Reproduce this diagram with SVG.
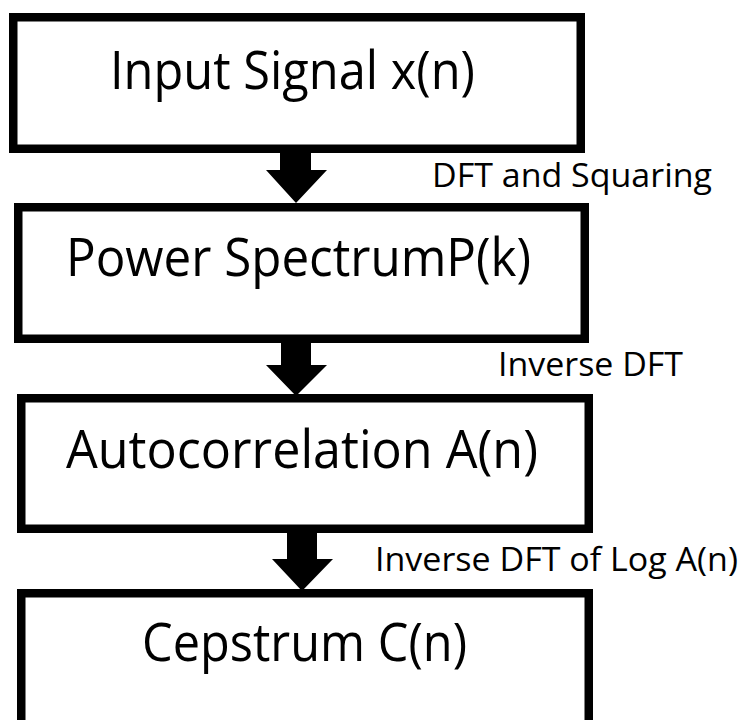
<svg xmlns="http://www.w3.org/2000/svg" width="744" height="720" viewBox="0 0 744 720">
<style>
.box{fill:#fff;stroke:#000;stroke-width:8.5}
.main{font-family:"Open Sans","Noto Sans",sans-serif;font-size:53px;fill:#000}
.lbl{font-family:"Open Sans","Noto Sans",sans-serif;font-size:32px;fill:#000}
.arr{fill:#000}
</style>
<rect width="744" height="720" fill="#fff"/>
<g id="node-input">
<rect class="box" x="13.25" y="17.25" width="567.5" height="131.5"/>
<text class="main" x="110" y="89" textLength="365" lengthAdjust="spacingAndGlyphs">Input Signal x(n)</text>
</g>
<g id="node-power">
<rect class="box" x="18.25" y="207.25" width="566.5" height="131.5"/>
<text class="main" x="66" y="276" textLength="465" lengthAdjust="spacingAndGlyphs">Power SpectrumP(k)</text>
</g>
<g id="node-autocorr">
<rect class="box" x="21.25" y="398.25" width="567.5" height="130.5"/>
<text class="main" x="66" y="468" textLength="472" lengthAdjust="spacingAndGlyphs">Autocorrelation A(n)</text>
</g>
<g id="node-cepstrum">
<rect class="box" x="21.25" y="593.25" width="567.5" height="200"/>
<text class="main" x="142" y="661" textLength="325" lengthAdjust="spacingAndGlyphs">Cepstrum C(n)</text>
</g>
<g id="connectors">
<polygon class="arr" points="280,150 311,150 311,170 327,170 296,203 266,170 280,170"/>
<polygon class="arr" points="281,340 311,340 311,365 327,365 296,396 266,365 281,365"/>
<polygon class="arr" points="287,530 317,530 317,559 333,559 302,591 272,559 287,559"/>
<text class="lbl" x="432" y="187" textLength="280" lengthAdjust="spacingAndGlyphs">DFT and Squaring</text>
<text class="lbl" x="498" y="376" textLength="185" lengthAdjust="spacingAndGlyphs">Inverse DFT</text>
<text class="lbl" x="375" y="571" textLength="363" lengthAdjust="spacingAndGlyphs">Inverse DFT of Log A(n)</text>
</g>
</svg>
